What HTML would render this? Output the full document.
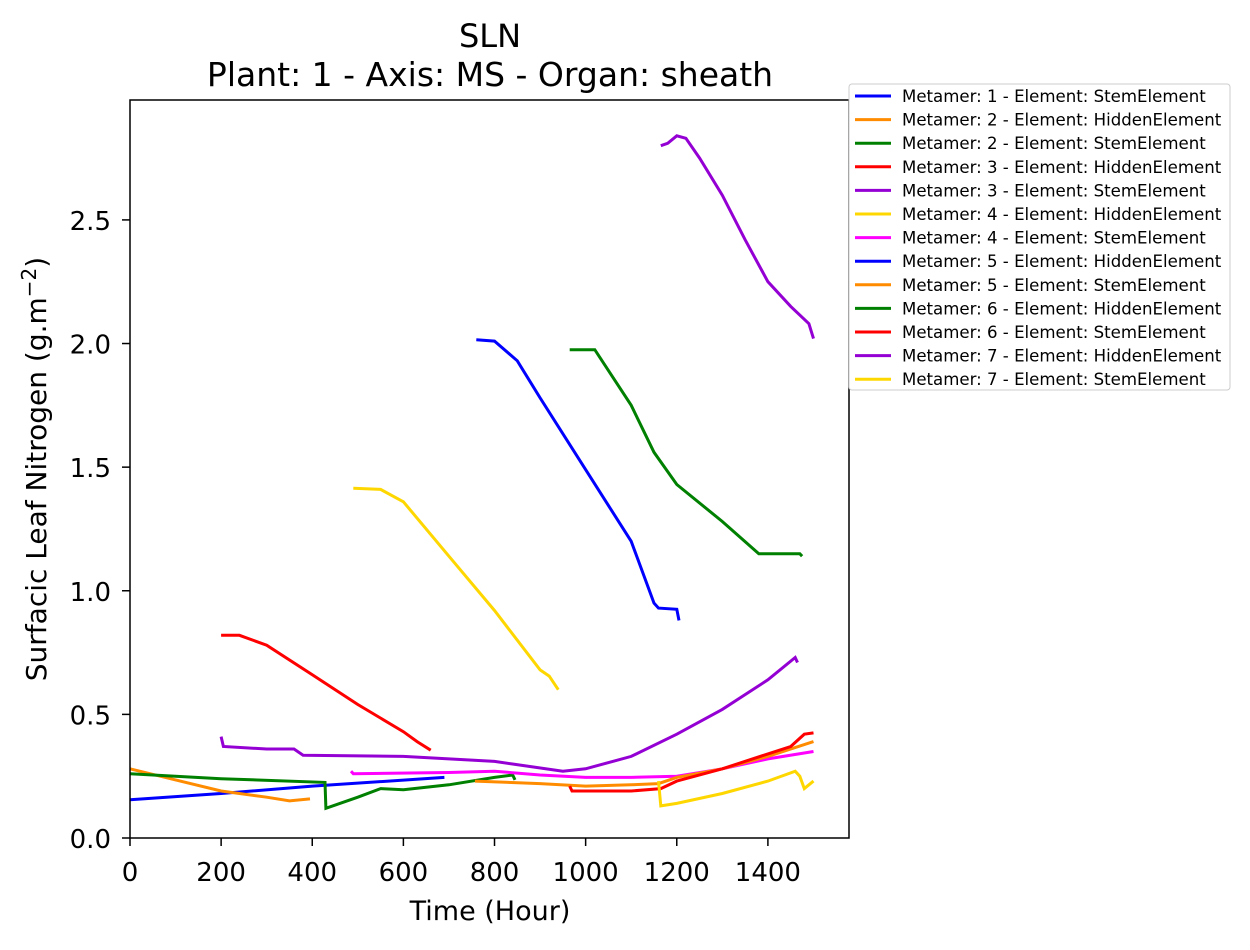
<!DOCTYPE html>
<html><head><meta charset="utf-8"><style>
body{margin:0;background:#fff;}
svg text{font-family:"DejaVu Sans","Liberation Sans",sans-serif;fill:#000;}
</style></head><body>
<svg id="chart" width="1250" height="945" xmlns="http://www.w3.org/2000/svg">
<text x="490" y="47" font-size="32" text-anchor="middle">SLN</text>
<text x="490" y="86" font-size="33" text-anchor="middle">Plant: 1 - Axis: MS - Organ: sheath</text>
<g id="plot"></g>
<rect x="130" y="100" width="719" height="738" fill="none" stroke="#000" stroke-width="1.5"/>
<g id="axes"></g>
<text x="490" y="920" font-size="27" text-anchor="middle">Time (Hour)</text>
<text transform="translate(46,469) rotate(-90)" font-size="28" text-anchor="middle">Surfacic Leaf Nitrogen (g.m<tspan dy="-10" font-size="20">−2</tspan><tspan dy="10">)</tspan></text>
<g id="legend"></g>
</svg>
<script>
const seriesNames=["Metamer: 1 - Element: StemElement","Metamer: 2 - Element: HiddenElement","Metamer: 2 - Element: StemElement","Metamer: 3 - Element: HiddenElement","Metamer: 3 - Element: StemElement","Metamer: 4 - Element: HiddenElement","Metamer: 4 - Element: StemElement","Metamer: 5 - Element: HiddenElement","Metamer: 5 - Element: StemElement","Metamer: 6 - Element: HiddenElement","Metamer: 6 - Element: StemElement","Metamer: 7 - Element: HiddenElement","Metamer: 7 - Element: StemElement"];
const seriesColors=["#0000ff","#ff8c00","#008000","#ff0000","#9400d3","#ffd700","#ff00ff","#0000ff","#ff8c00","#008000","#ff0000","#9400d3","#ffd700"];
const s1=[[0,0.155],[200,0.18],[400,0.21],[690,0.245]];
const s2=[[0,0.28],[100,0.235],[200,0.19],[300,0.165],[350,0.15],[395,0.158]];
const s3=[[0,0.26],[200,0.24],[428,0.225],[430,0.12],[500,0.165],[550,0.2],[600,0.195],[700,0.215],[800,0.245],[840,0.255],[845,0.235]];
const s4=[[200,0.82],[240,0.82],[300,0.78],[400,0.66],[500,0.54],[600,0.43],[630,0.39],[660,0.355]];
const s5=[[200,0.41],[205,0.37],[300,0.36],[360,0.36],[380,0.335],[600,0.33],[800,0.31],[950,0.27],[1000,0.28],[1100,0.33],[1200,0.42],[1300,0.52],[1400,0.64],[1460,0.73],[1465,0.71]];
const s6=[[490,1.415],[550,1.41],[600,1.36],[700,1.14],[800,0.92],[900,0.68],[920,0.655],[940,0.6]];
const s7=[[485,0.27],[490,0.26],[700,0.265],[800,0.27],[900,0.255],[1000,0.245],[1100,0.245],[1200,0.25],[1300,0.28],[1400,0.32],[1500,0.35]];
const s8=[[760,2.015],[800,2.01],[850,1.93],[900,1.78],[1000,1.49],[1100,1.2],[1150,0.95],[1160,0.93],[1200,0.925],[1205,0.88]];
const s9=[[757,0.23],[900,0.22],[1000,0.21],[1100,0.215],[1160,0.22],[1200,0.245],[1300,0.28],[1400,0.33],[1500,0.39]];
const s10=[[965,1.975],[1020,1.975],[1100,1.75],[1150,1.56],[1200,1.43],[1300,1.28],[1380,1.15],[1420,1.15],[1470,1.15],[1475,1.14]];
const s11=[[965,0.21],[970,0.19],[1100,0.19],[1165,0.2],[1200,0.23],[1300,0.28],[1400,0.34],[1450,0.37],[1480,0.42],[1500,0.425]];
const s12=[[1165,2.8],[1180,2.81],[1200,2.84],[1220,2.83],[1250,2.75],[1300,2.6],[1350,2.42],[1400,2.25],[1450,2.15],[1490,2.08],[1500,2.02]];
const s13=[[1160,0.23],[1165,0.13],[1200,0.14],[1300,0.18],[1400,0.23],[1460,0.27],[1470,0.25],[1480,0.2],[1500,0.23]];
const allSeries=[s1,s2,s3,s4,s5,s6,s7,s8,s9,s10,s11,s12,s13];
const xTicks=[0,200,400,600,800,1000,1200,1400];
const yTicks=[0.0,0.5,1.0,1.5,2.0,2.5];

const NS="http://www.w3.org/2000/svg";
const X0=130,X1=849,Y0=838,Y1=100,XMAX=1578,YMAX=2.985;
function sx(t){return X0+(t/XMAX)*(X1-X0);}
function sy(v){return Y0-(v/YMAX)*(Y0-Y1);}
const plot=document.getElementById('plot');
allSeries.forEach((s,i)=>{
  const p=document.createElementNS(NS,'polyline');
  p.setAttribute('points',s.map(d=>sx(d[0]).toFixed(1)+','+sy(d[1]).toFixed(1)).join(' '));
  p.setAttribute('fill','none');p.setAttribute('stroke',seriesColors[i]);p.setAttribute('stroke-width','3');
  
  
  plot.appendChild(p);
});
const axes=document.getElementById('axes');
xTicks.forEach(t=>{
  const l=document.createElementNS(NS,'line');
  l.setAttribute('x1',sx(t));l.setAttribute('x2',sx(t));l.setAttribute('y1',Y0);l.setAttribute('y2',Y0+8);l.setAttribute('stroke','#000');l.setAttribute('stroke-width','1.5');
  
  
  axes.appendChild(l);
  const tx=document.createElementNS(NS,'text');
  tx.setAttribute('x',sx(t));tx.setAttribute('y',881);tx.setAttribute('font-size','26');tx.setAttribute('text-anchor','middle');
  tx.textContent=t;
  
  
  axes.appendChild(tx);
});
yTicks.forEach(v=>{
  const l=document.createElementNS(NS,'line');
  l.setAttribute('x1',X0-8);l.setAttribute('x2',X0);l.setAttribute('y1',sy(v));l.setAttribute('y2',sy(v));l.setAttribute('stroke','#000');l.setAttribute('stroke-width','1.5');
  
  
  axes.appendChild(l);
  const tx=document.createElementNS(NS,'text');
  tx.setAttribute('x',111);tx.setAttribute('y',sy(v)+10);tx.setAttribute('font-size','26');tx.setAttribute('text-anchor','end');
  tx.textContent=v.toFixed(1);
  
  
  axes.appendChild(tx);
});
const lg=document.getElementById('legend');
const box=document.createElementNS(NS,'rect');
box.setAttribute('x',849);box.setAttribute('y',84);box.setAttribute('width',381);box.setAttribute('height',306);box.setAttribute('rx',3);
box.setAttribute('fill','#fff');box.setAttribute('stroke','#ccc');


lg.appendChild(box);
seriesNames.forEach((n,i)=>{
  const y=96+i*23.6;
  const l=document.createElementNS(NS,'line');
  l.setAttribute('x1',855);l.setAttribute('x2',891);l.setAttribute('y1',y);l.setAttribute('y2',y);l.setAttribute('stroke',seriesColors[i]);l.setAttribute('stroke-width','3');
  
  
  lg.appendChild(l);
  const tx=document.createElementNS(NS,'text');
  tx.setAttribute('x',902);tx.setAttribute('y',y+6);tx.setAttribute('font-size','16.6');
  tx.textContent=n;
  
  
  lg.appendChild(tx);
});
</script>
</body></html>
